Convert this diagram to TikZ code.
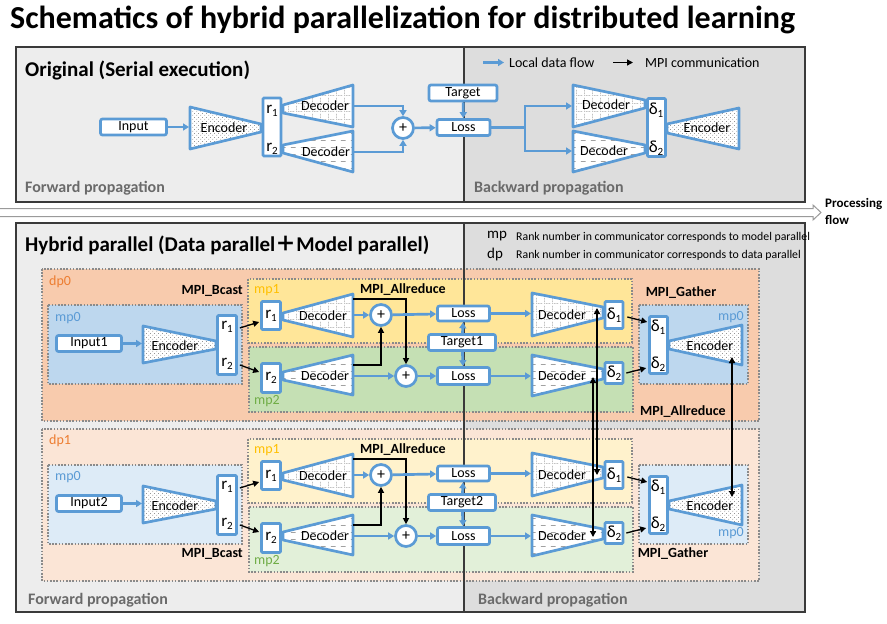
\documentclass[tikz,border=0pt]{standalone}
\usepackage{fontspec}
\setmainfont{Carlito}
\newfontfamily\cjk{Noto Sans CJK SC}
\usetikzlibrary{arrows.meta,patterns}
\definecolor{lblue}{HTML}{5B9BD5}
\definecolor{bgL}{HTML}{EDEDED}
\definecolor{bgR}{HTML}{DDDDDD}
\definecolor{panelc}{HTML}{3A3A3A}
\definecolor{rgray}{HTML}{8A8A8A}
\definecolor{txtgray}{HTML}{6A6A6A}
\definecolor{patgray}{HTML}{707070}
\definecolor{dpA}{HTML}{F8CBAD}
\definecolor{dpB}{HTML}{FBE5D6}
\definecolor{mpzA}{HTML}{BDD7EE}
\definecolor{mpzB}{HTML}{DDEBF7}
\definecolor{mpaA}{HTML}{FFE699}
\definecolor{mpaB}{HTML}{FFF2CC}
\definecolor{mpbA}{HTML}{C5E0B4}
\definecolor{mpbB}{HTML}{E2F0D9}
\definecolor{dporange}{HTML}{ED7D31}
\definecolor{mpyellow}{HTML}{FFC000}
\definecolor{mpgreen}{HTML}{70AD47}
\definecolor{pfgray}{HTML}{9A9A9A}
\newcommand\fsz[1]{\fontsize{#1}{#1}\selectfont}
\newcommand\sbs[1]{{\fsz{11}\raisebox{-3pt}{#1}}}
\pgfdeclarepatternformonly{encdots}{\pgfpointorigin}{\pgfqpoint{4pt}{4pt}}{\pgfqpoint{4pt}{4pt}}{%
  \pgfpathcircle{\pgfqpoint{1pt}{1pt}}{0.5pt}\pgfpathcircle{\pgfqpoint{3pt}{3pt}}{0.5pt}\pgfusepath{fill}}
\pgfdeclarepatternformonly{decgrid}{\pgfpointorigin}{\pgfqpoint{8pt}{8pt}}{\pgfqpoint{8pt}{8pt}}{%
  \pgfpathrectangle{\pgfqpoint{0pt}{0pt}}{\pgfqpoint{0.8pt}{0.6pt}}%
  \pgfpathrectangle{\pgfqpoint{2pt}{0pt}}{\pgfqpoint{0.8pt}{0.6pt}}%
  \pgfpathrectangle{\pgfqpoint{4pt}{0pt}}{\pgfqpoint{0.8pt}{0.6pt}}%
  \pgfpathrectangle{\pgfqpoint{6pt}{0pt}}{\pgfqpoint{0.8pt}{0.6pt}}%
  \pgfpathrectangle{\pgfqpoint{0pt}{2pt}}{\pgfqpoint{0.6pt}{0.8pt}}%
  \pgfpathrectangle{\pgfqpoint{0pt}{4pt}}{\pgfqpoint{0.6pt}{0.8pt}}%
  \pgfpathrectangle{\pgfqpoint{0pt}{6pt}}{\pgfqpoint{0.6pt}{0.8pt}}%
  \pgfusepath{fill}}
\pgfdeclarepatternformonly{decdash}{\pgfpointorigin}{\pgfqpoint{10pt}{7pt}}{\pgfqpoint{10pt}{7pt}}{%
  \pgfpathrectangle{\pgfqpoint{1pt}{0pt}}{\pgfqpoint{5pt}{0.7pt}}\pgfusepath{fill}}
\tikzset{
  box/.style={draw=lblue, line width=2.7pt, fill=white, rounded corners=2pt, inner sep=0pt, font=\fsz{14}},
  rbox/.style={draw=lblue, line width=2.7pt, fill=white, rounded corners=1pt, inner sep=0pt, font=\fsz{17}},
  plusn/.style={circle, draw=lblue, line width=2.7pt, fill=white, minimum size=21pt, inner sep=0pt, font=\fsz{16}},
  lab/.style={inner sep=0pt, font=\fsz{14}},
  rlab/.style={inner sep=0pt, font=\fsz{17}},
  flow/.style={lblue, line width=2.7pt, -{Triangle[length=6pt,width=7pt]}},
  flowline/.style={lblue, line width=2.7pt},
  mpi/.style={black, line width=1.3pt, -{Triangle[length=6pt,width=6pt]}},
  mpib/.style={black, line width=1.3pt, {Triangle[length=6pt,width=6pt]}-{Triangle[length=6pt,width=6pt]}},
  encT/.style={draw=lblue, line width=2.7pt, line join=round, preaction={fill=white}, pattern=encdots, pattern color=patgray},
  decG/.style={draw=lblue, line width=2.7pt, line join=round, preaction={fill=white}, pattern=decgrid, pattern color=patgray},
  decD/.style={draw=lblue, line width=2.7pt, line join=round, preaction={fill=white}, pattern=decdash, pattern color=patgray},
  region/.style={draw=rgray, line width=1.6pt, dash pattern=on 1.6pt off 1.6pt},
  panel/.style={draw=panelc, line width=1.2pt},
  mpilab/.style={inner sep=0pt, font=\fsz{14}\bfseries},
  seclab/.style={inner sep=0pt, anchor=west, font=\fsz{16}\bfseries, text=txtgray},
  head/.style={inner sep=0pt, anchor=west, font=\fsz{21}\bfseries},
  clab/.style={inner sep=0pt, font=\fsz{14}},
}
\newcommand\dpregions[5]{%
\begin{scope}[yshift=-#1pt]
\draw[region, fill=#2] (42,269) rectangle (759,421);
\draw[region, fill=#3] (48,305) rectangle (242,384);
\draw[region, fill=#4] (248,279) rectangle (632,343);
\draw[region, fill=#5] (249,347) rectangle (633,412);
\draw[region, fill=#3] (639,305) rectangle (748,384);
\end{scope}}
\newcommand\dpcontent[4]{%
\begin{scope}[yshift=-#2pt]
\node[box, minimum width=65pt, minimum height=16pt] (in#1) at (89,343.5) {#3};
\draw[encT] (143,326) -- (216,341) -- (216,349) -- (143,363) -- cycle;
\node[lab] (encL#1) at (175,346) {Encoder};
\coordinate (encLw#1) at (142,343.5);
\draw[flow] (in#1.east) -- (encLw#1);
\node[rbox, minimum width=19pt, minimum height=59pt] (rL#1) at (227,345) {};
\node[rlab] (rLa#1) at (227,327) {r\sbs{1}};
\node[rlab] (rLb#1) at (227,364) {r\sbs{2}};
\node[rbox, minimum width=19pt, minimum height=28pt] (ra#1) at (271,315.5) {r\sbs{1}};
\node[rbox, minimum width=19pt, minimum height=29pt] (rb#1) at (271,378) {r\sbs{2}};
\draw[mpi] ([xshift=2pt,yshift=17pt]rL#1.east) -- ([xshift=-1pt,yshift=-6.5pt]ra#1.west);
\draw[mpi] ([xshift=2pt,yshift=-20pt]rL#1.east) -- ([xshift=-1pt,yshift=6pt]rb#1.west);
\draw[decG] (283,313) -- (353,294) -- (353,337) -- (283,320) -- cycle;
\node[lab] (fda#1) at (323,316) {Decoder};
\draw[decD] (283,372) -- (353,355) -- (353,395) -- (283,380) -- cycle;
\node[lab] (fdb#1) at (325,375.5) {Decoder};
\node[plusn] (pa#1) at (381,315) {+};
\node[plusn] (pb#1) at (406,376) {+};
\coordinate (fa#1) at (354,315);
\coordinate (fb#1) at (354,376);
\coordinate (ma#1) at (353,299);
\coordinate (mb#1) at (353,365);
\draw[flow] (fa#1) -- (pa#1);
\draw[flow] (fb#1) -- (pb#1);
\draw[mpi] (ma#1) -| (pb#1.north);
\draw[mpi] (mb#1) -| (pa#1.south);
\node[box, minimum width=52pt, minimum height=15pt] (la#1) at (463.5,313.5) {Loss};
\node[box, minimum width=67pt, minimum height=16pt] (tg#1) at (462,342.5) {#4};
\node[box, minimum width=52pt, minimum height=17pt] (lb#1) at (463.5,376) {Loss};
\draw[flow] (pa#1) -- (la#1);
\draw[flow] (pb#1) -- (lb#1);
\draw[flow] (tg#1) -- (la#1);
\draw[flow] (tg#1) -- (lb#1);
\coordinate (ba#1) at (531,313.5);
\coordinate (bb#1) at (531,376);
\draw[flow] (la#1) -- (ba#1);
\draw[flow] (lb#1) -- (bb#1);
\draw[decG] (532,293) -- (603,307) -- (603,318) -- (532,336) -- cycle;
\node[lab] (bda#1) at (562,315) {Decoder};
\draw[decD] (532,355) -- (603,369) -- (603,379) -- (532,396) -- cycle;
\node[lab] (bdb#1) at (562,376) {Decoder};
\node[rbox, minimum width=18pt, minimum height=27pt] (da#1) at (614,315) {δ\sbs{1}};
\node[rbox, minimum width=18pt, minimum height=21pt] (db#1) at (614,373) {δ\sbs{2}};
\node[rbox, minimum width=18pt, minimum height=57pt] (G#1) at (658.5,345) {};
\node[rlab] (Ga#1) at (658,327) {δ\sbs{1}};
\node[rlab] (Gb#1) at (658,364) {δ\sbs{2}};
\draw[mpi] ([xshift=3pt,yshift=-2pt]da#1.east) -- ([xshift=-1pt,yshift=23pt]G#1.west);
\draw[mpi] ([xshift=2pt]db#1.east) -- ([xshift=-2pt,yshift=-23pt]G#1.west);
\draw[encT] (669,341) -- (742,325) -- (742,365) -- (669,349) -- cycle;
\node[lab] (bencR#1) at (710,346) {Encoder};
\end{scope}}
\begin{document}
\begin{tikzpicture}[x=1pt,y=-1pt]
\useasboundingbox[fill=white] (0,0) rectangle (887,624);
\node[anchor=base west, inner sep=0pt, font=\fsz{32}\bfseries] (title) at (10,28) {Schematics of hybrid parallelization for distributed learning};
% ---------------- top panel
\fill[bgL] (16,47) rectangle (464,202);
\fill[bgR] (464,47) rectangle (805,202);
\draw[panel] (16,47) rectangle (805,202);
\draw[panel] (464,47) -- (464,202);
\node[head] (orig) at (25,70) {Original (Serial execution)};
\node[seclab] (fw0) at (25,188) {Forward propagation};
\node[seclab] (bw0) at (474,188) {Backward propagation};
\coordinate (lg1a) at (483,62.5);
\coordinate (lg1b) at (504,62.5);
\coordinate (lg2a) at (613,62.5);
\coordinate (lg2b) at (633,62.5);
\draw[flow] (lg1a) -- (lg1b);
\draw[mpi] (lg2a) -- (lg2b);
\node[clab, anchor=west] (lgt1) at (509,62.5) {Local data flow};
\node[clab, anchor=west] (lgt2) at (645,62.5) {MPI communication};
\node[box, minimum width=66pt, minimum height=16pt] (in0) at (133.5,127) {Input};
\draw[encT] (190,107) -- (261,124) -- (261,132) -- (190,149) -- cycle;
\node[lab] (enc0) at (224,128) {Encoder};
\coordinate (enc0w) at (189,127);
\draw[flow] (in0.east) -- (enc0w);
\node[rbox, minimum width=18pt, minimum height=58pt] (r0) at (272,127) {};
\node[rlab] (r0a) at (272,111) {r\sbs{1}};
\node[rlab] (r0b) at (272,149) {r\sbs{2}};
\draw[decG] (283,105) -- (353,85) -- (353,127) -- (283,113) -- cycle;
\node[lab] (d0at) at (325,106) {Decoder};
\draw[decD] (283,145) -- (353,131) -- (353,172) -- (283,153) -- cycle;
\node[lab] (d0bt) at (326,152) {Decoder};
\coordinate (d0a) at (354,106);
\coordinate (d0b) at (354,152);
\node[plusn] (p0) at (403,128) {+};
\draw[flow] (d0a) -| (p0.north);
\draw[flow] (d0b) -| (p0.south);
\node[box, minimum width=68pt, minimum height=16pt] (tg0) at (463,93) {Target};
\node[box, minimum width=53pt, minimum height=16pt] (ls0) at (463.5,127.5) {Loss};
\draw[flow] (p0) -- (ls0);
\draw[flow] (tg0) -- (ls0);
\coordinate (br0) at (525,127.5);
\coordinate (bd0a) at (572,106);
\coordinate (bd0b) at (572,151);
\draw[flowline] (ls0.east) -- (br0);
\draw[flow] (br0) |- (bd0a);
\draw[flow] (br0) |- (bd0b);
\draw[decG] (573,85) -- (645,100) -- (645,108) -- (573,127) -- cycle;
\node[lab] (b0at) at (606,105) {Decoder};
\draw[decD] (573,131) -- (645,145) -- (645,153) -- (573,172) -- cycle;
\node[lab] (b0bt) at (604,151) {Decoder};
\node[rbox, minimum width=18pt, minimum height=58pt] (dl0) at (656.5,127.5) {};
\node[rlab] (dl0a) at (656,110) {δ\sbs{1}};
\node[rlab] (dl0b) at (656,148) {δ\sbs{2}};
\draw[encT] (667,124) -- (739,108) -- (739,149) -- (667,133) -- cycle;
\node[lab] (e0b) at (707,128) {Encoder};
% ---------------- processing flow
\draw[draw=pfgray, fill=white, line width=1pt] (-5,208.5) -- (813,208.5) -- (813,205) -- (821,212.5) -- (813,220) -- (813,216.5) -- (-5,216.5) -- cycle;
\node[inner sep=0pt, anchor=west, font=\fsz{13}\bfseries] (pf1) at (825,204) {Processing};
\node[inner sep=0pt, anchor=west, font=\fsz{13}\bfseries] (pf2) at (825,220) {flow};
% ---------------- bottom panel
\fill[bgL] (16,223) rectangle (464,612);
\fill[bgR] (464,223) rectangle (805,612);
\draw[panel] (16,223) rectangle (805,612);
\node[head] (hyb) at (25,245) {Hybrid parallel (Data parallel{\cjk ＋}Model parallel)};
\node[inner sep=0pt, anchor=west, font=\fsz{15}] (lmp) at (487,236) {mp};
\node[inner sep=0pt, anchor=west, font=\fsz{11.8}] (lmpt) at (516,237) {Rank number in communicator corresponds to model parallel};
\node[inner sep=0pt, anchor=west, font=\fsz{15}] (ldp) at (487,254) {dp};
\node[inner sep=0pt, anchor=west, font=\fsz{11.8}] (ldpt) at (516,255) {Rank number in communicator corresponds to data parallel};
\dpregions{0}{dpA}{mpzA}{mpaA}{mpbA}
\dpregions{160}{dpB}{mpzB}{mpaB}{mpbB}
\draw[panel] (464,223) -- (464,612);
\dpcontent{A}{0}{Input1}{Target1}
\dpcontent{B}{160}{Input2}{Target2}
% region labels
\node[inner sep=0pt, anchor=west, font=\fsz{14}, text=dporange] (dp0l) at (49,282) {dp0};
\node[inner sep=0pt, anchor=west, font=\fsz{14}, text=dporange] (dp1l) at (49,441) {dp1};
\node[inner sep=0pt, anchor=west, font=\fsz{14}, text=lblue] (mp0la) at (55,318) {mp0};
\node[inner sep=0pt, anchor=west, font=\fsz{14}, text=lblue] (mp0lb) at (55,477) {mp0};
\node[inner sep=0pt, anchor=west, font=\fsz{14}, text=mpyellow] (mp1la) at (254,290) {mp1};
\node[inner sep=0pt, anchor=west, font=\fsz{14}, text=mpyellow] (mp1lb) at (254,450) {mp1};
\node[inner sep=0pt, anchor=west, font=\fsz{14}, text=mpgreen] (mp2la) at (254,401) {mp2};
\node[inner sep=0pt, anchor=west, font=\fsz{14}, text=mpgreen] (mp2lb) at (254,561) {mp2};
\node[inner sep=0pt, anchor=east, font=\fsz{14}, text=lblue] (mp0ra) at (744,317) {mp0};
\node[inner sep=0pt, anchor=east, font=\fsz{14}, text=lblue] (mp0rb) at (744,533) {mp0};
% MPI labels
\node[mpilab, anchor=east] (bca) at (243,291) {MPI\_Bcast};
\node[mpilab, anchor=east] (bcb) at (243,554) {MPI\_Bcast};
\node[mpilab] (ara) at (403,290) {MPI\_Allreduce};
\node[mpilab] (arb) at (403,450) {MPI\_Allreduce};
\node[mpilab] (gaa) at (681,293) {MPI\_Gather};
\node[mpilab] (gab) at (673,554) {MPI\_Gather};
\node[mpilab] (arr) at (683,412) {MPI\_Allreduce};
% vertical MPI
\coordinate (v1a) at (597,308);
\coordinate (v1b) at (597,475);
\coordinate (v2a) at (593,377);
\coordinate (v2b) at (593,537);
\coordinate (v3a) at (732,357);
\coordinate (v3b) at (732,497);
\draw[mpib] (v1a) -- (v1b);
\draw[mpib] (v2a) -- (v2b);
\draw[mpib] (v3a) -- (v3b);
\node[seclab] (fw1) at (28,600) {Forward propagation};
\node[seclab] (bw1) at (478,600) {Backward propagation};
\end{tikzpicture}
\end{document}
